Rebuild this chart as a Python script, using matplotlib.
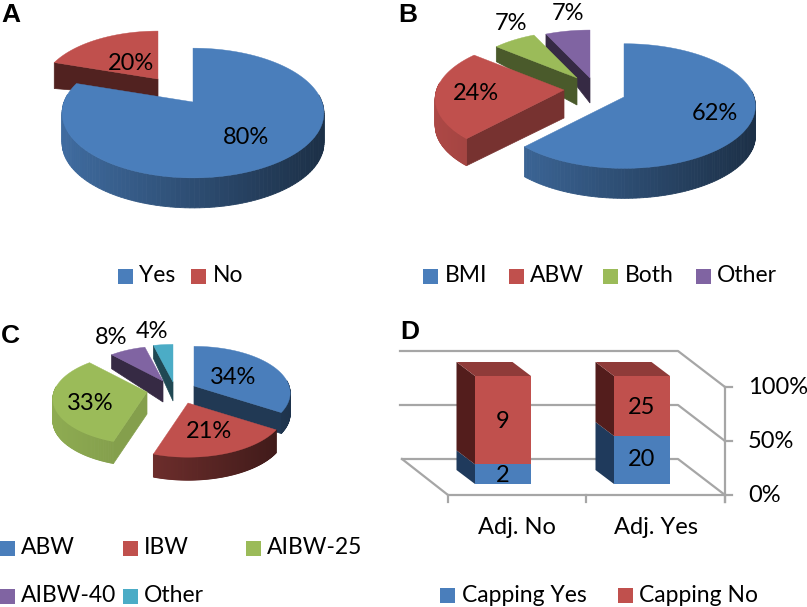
import numpy as np
import matplotlib
matplotlib.use('Agg')
import matplotlib.pyplot as plt

plt.rcParams['font.family'] = ['Lato', 'DejaVu Sans']

BLUE = '#4a7ebb'
RED = '#c0504d'
GREEN = '#9bbb59'
PURPLE = '#8064a2'
TEAL = '#4bacc6'
GREY = '#a6a6a6'
FS = 17
FS_LEG = 16.5

# data
a_names = ['Yes', 'No']
a_values = [80, 20]
b_names = ['BMI', 'ABW', 'Both', 'Other']
b_values = [62, 24, 7, 7]
c_names = ['ABW', 'IBW', 'AIBW-25', 'AIBW-40', 'Other']
c_values = [34, 21, 33, 8, 4]
d_groups = ['Adj. No', 'Adj. Yes']
d_capping_yes = [2, 20]
d_capping_no = [9, 25]
d_ticks = [0, 50, 100]

fig = plt.figure(figsize=(8.07, 6.07), dpi=100)
ax = fig.add_axes([0, 0, 1, 1])
ax.set_xlim(0, 807)
ax.set_ylim(607, 0)
ax.axis('off')


def shade(color, f):
    return tuple(c * f for c in matplotlib.colors.to_rgb(color))


def project(t, apex, rx, ry, k, scale):
    X, Y = np.sin(t), -np.cos(t)
    s = scale / (1 - k * Y)
    return apex[0] + rx * X * s, apex[1] + ry * Y * s


def draw_slice(t0, t1, color, apex, rx, ry, k, scale, d_apex, d_rim, wall, left, fade):
    ts = np.linspace(t0, t1, 160)
    xs, ys = project(ts, apex, rx, ry, k, scale)

    # straight cut faces
    for t, seen in ((t0, np.sin(t0) < -0.01), (t1, np.sin(t1) > 0.01)):
        if seen:
            x, y = project(t, apex, rx, ry, k, scale)
            ax.fill([apex[0], x, x, apex[0]],
                    [apex[1], y, y + d_rim, apex[1] + d_apex],
                    color=shade(color, wall), lw=0.5, zorder=ax.zorder_now)
            ax.zorder_now += 1

    # curved outer wall, darker to the right
    for i in range(len(ts) - 1):
        if -np.cos(ts[i]) < -0.12:
            continue
        frac = np.clip((xs[i] - left) / (2 * rx), 0, 1)
        c = shade(color, fade[0] + (fade[1] - fade[0]) * frac)
        ax.fill([xs[i], xs[i + 1], xs[i + 1], xs[i]],
                [ys[i], ys[i + 1], ys[i + 1] + d_rim, ys[i] + d_rim],
                color=c, lw=0.6, zorder=ax.zorder_now)
    ax.zorder_now += 1

    # top
    ax.fill(np.r_[apex[0], xs], np.r_[apex[1], ys], color=color, lw=0.3, zorder=ax.zorder_now)
    ax.zorder_now += 1


def draw_pie(values, colors, layout, order, rx, ry, k):
    edges = np.radians(np.r_[0, np.cumsum(values)] / np.sum(values) * 360)
    for i in order:
        apex, scale, d_apex, d_rim, wall, fade = layout[i]
        left = apex[0] - rx
        draw_slice(edges[i], edges[i + 1], colors[i], apex, rx, ry, k, scale,
                   d_apex, d_rim, wall, left, fade)


ax.zorder_now = 1

draw_pie(a_values, [BLUE, RED],
         [((193, 102), 1.0, 30, 30, 0.45, (0.85, 0.38)),
          ((158, 79), 0.89, 18, 26, 0.42, (0.5, 0.4))],
         [1, 0], 129, 63, 0.17)

draw_pie(b_values, [BLUE, RED, GREEN, PURPLE],
         [((624, 97), 1.0, 30, 30, 0.45, (0.85, 0.38)),
          ((564, 90), 0.98, 28, 27, 0.62, (0.9, 0.55)),
          ((577, 78), 0.88, 27, 15, 0.48, (0.7, 0.5)),
          ((590, 78), 0.9, 25, 13, 0.42, (0.7, 0.5))],
         [3, 2, 1, 0], 130, 61, 0.145)

draw_pie(c_values, [BLUE, RED, GREEN, PURPLE, TEAL],
         [((194, 386), 0.97, 21, 21, 0.45, (0.8, 0.4)),
          ((188, 403), 0.98, 22, 23, 0.62, (0.68, 0.32)),
          ((147, 392), 0.95, 22, 22, 0.85, (0.92, 0.72)),
          ((163, 381), 0.85, 21, 14, 0.42, (0.7, 0.5)),
          ((173, 382), 0.92, 19, 13, 0.42, (0.7, 0.5))],
         [3, 4, 0, 2, 1], 98, 47, 0.15)

# panel D, stacked to 100%
FLOOR_Y = 484
PCT_PX = 1.08
BAR_X = [475, 614]
BAR_W = 56
DX, DY = -18.5, -14

ax.plot([400, 678, 725], [351, 351, 387], color=GREY, lw=1.6, zorder=20)
ax.plot([400, 678, 725], [405, 405, 441], color=GREY, lw=1.6, zorder=20)
ax.plot([402, 678, 725], [459, 459, 495], color=GREY, lw=1.6, zorder=20)
ax.plot([402, 448, 725], [459, 495, 495], color=GREY, lw=1.6, zorder=20)
ax.plot([725, 725], [387, 502], color=GREY, lw=1.6, zorder=20)
for x in [448, 586, 725]:
    ax.plot([x, x], [495, 502], color=GREY, lw=1.6, zorder=20)
for p in d_ticks:
    y = 495 - p * PCT_PX
    ax.plot([725, 732], [y, y], color=GREY, lw=1.6, zorder=20)
    ax.text(748, y, '%d%%' % p, fontsize=FS, va='center', ha='left', color='black', zorder=40)

for i in range(len(d_groups)):
    yes, no = d_capping_yes[i], d_capping_no[i]
    total = yes + no
    x0 = BAR_X[i]
    x1 = x0 + BAR_W
    y_mid = FLOOR_Y - yes / total * 100 * PCT_PX
    y_top = FLOOR_Y - 100 * PCT_PX
    # side faces
    ax.fill([x0, x0 + DX, x0 + DX, x0], [FLOOR_Y, FLOOR_Y + DY, y_mid + DY, y_mid],
            color='#1f3a5c', lw=0, zorder=25)
    ax.fill([x0, x0 + DX, x0 + DX, x0], [y_mid, y_mid + DY, y_top + DY, y_top],
            color='#531d1c', lw=0, zorder=25)
    # top face
    ax.fill([x0, x0 + DX, x1 + DX, x1], [y_top, y_top + DY, y_top + DY, y_top],
            color='#8f3b39', lw=0, zorder=25)
    # front
    ax.bar(x0 + BAR_W / 2, FLOOR_Y - y_mid, BAR_W, bottom=y_mid, color=BLUE, zorder=26)
    ax.bar(x0 + BAR_W / 2, y_mid - y_top, BAR_W, bottom=y_top, color=RED, zorder=26)
    ax.text(x0 + 28, (y_mid + FLOOR_Y) / 2 + (1 if yes < 5 else 0), str(yes), fontsize=FS,
            ha='center', va='center', zorder=40)
    ax.text(x0 + 28, (y_mid + y_top) / 2 + 1, str(no), fontsize=FS,
            ha='center', va='center', zorder=40)
    ax.text(x0 + 42, 528, d_groups[i], fontsize=FS, ha='center', va='center', zorder=40)
ax.set_ylim(607, 0)
ax.set_xlim(0, 807)

# percent labels on the pies
pie_labels = [(131, 63, a_values[1]), (246, 138, a_values[0]),
              (511, 24, b_values[2]), (568, 13, b_values[3]),
              (476, 93, b_values[1]), (715, 114, b_values[0]),
              (111, 338, c_values[3]), (152, 331, c_values[4]),
              (90, 403, c_values[2]), (233, 378, c_values[0]), (209, 432, c_values[1])]
for x, y, v in pie_labels:
    ax.text(x, y, '%d%%' % v, fontsize=FS, ha='center', va='center', zorder=40)


def legend_item(x, y, name, color, text_x):
    ax.fill([x, x + 15, x + 15, x], [y - 7.5, y - 7.5, y + 7.5, y + 7.5], color=color, lw=0, zorder=40)
    ax.text(text_x, y, name, fontsize=FS_LEG, ha='left', va='center', zorder=40)


legend_item(118, 276, a_names[0], BLUE, 139)
legend_item(191, 276, a_names[1], RED, 213)

legend_item(423, 276, b_names[0], BLUE, 445)
legend_item(509, 276, b_names[1], RED, 530)
legend_item(603, 276, b_names[2], GREEN, 625)
legend_item(696, 276, b_names[3], PURPLE, 717)

legend_item(0, 548, c_names[0], BLUE, 21)
legend_item(123, 548, c_names[1], RED, 144)
legend_item(246, 548, c_names[2], GREEN, 267)
legend_item(0, 596, c_names[3], PURPLE, 21)
legend_item(123, 596, c_names[4], TEAL, 144)

legend_item(440, 595, 'Capping Yes', BLUE, 462)
legend_item(618, 595, 'Capping No', RED, 639)

# panel letters
for x, y, s in [(1, 15, 'A'), (398, 15, 'B'), (1, 336, 'C'), (400, 332, 'D')]:
    ax.text(x, y, s, fontsize=19, fontweight='bold', family='Liberation Sans',
            ha='left', va='center', zorder=40)

fig.savefig('out.png', dpi=100)
